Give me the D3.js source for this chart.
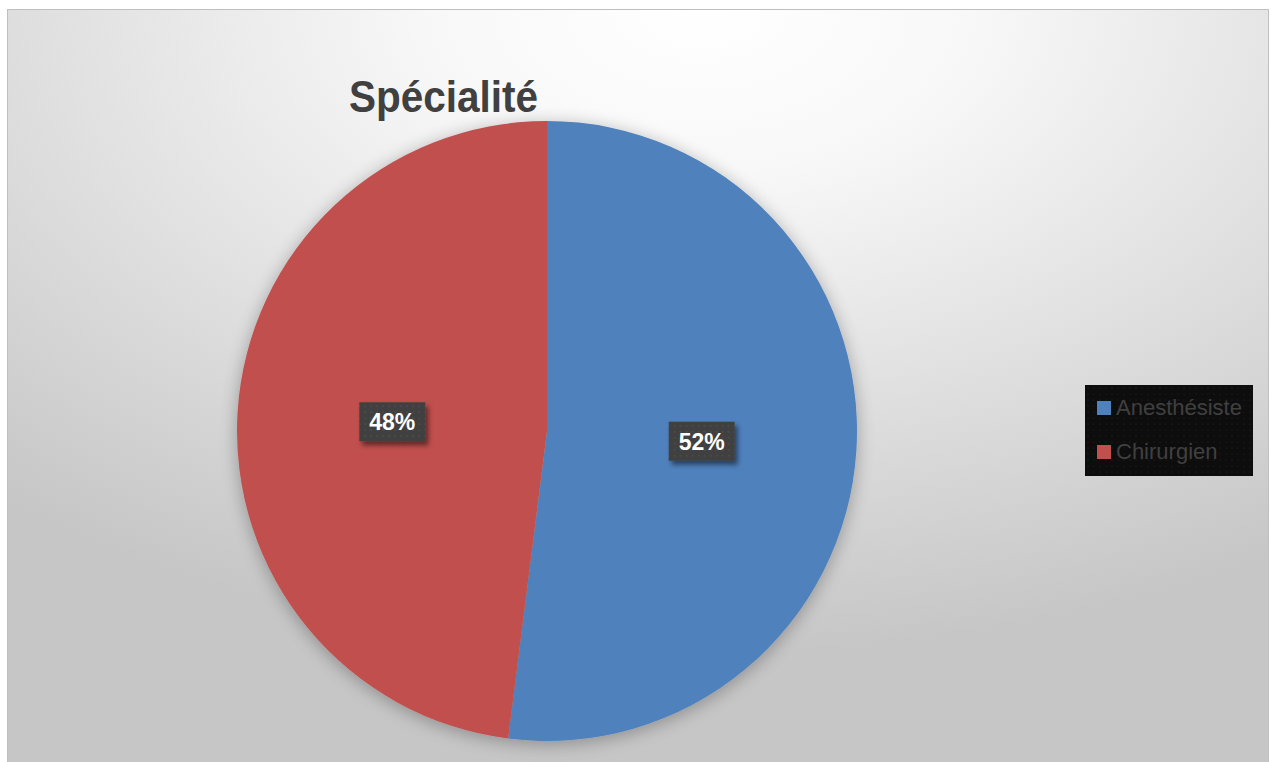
<!DOCTYPE html>
<html><head><meta charset="utf-8">
<script src="https://cdn.jsdelivr.net/npm/d3@7"></script>
<style>html,body{margin:0;padding:0;background:#fff;overflow:hidden}</style>
</head><body>
<svg id="chart" width="1271" height="762"></svg>
<script>
const categories = ["Anesthésiste", "Chirurgien"];
const values = [52, 48];
const labels = ["52%", "48%"];
const colors = ["#4F81BD", "#C0504D"];
const title = "Spécialité";

const svg = d3.select("#chart");
const defs = svg.append("defs");
const bg = defs.append("radialGradient").attr("id","bg")
  .attr("cx","0.55").attr("cy","0.0").attr("r","0.85").attr("fx","0.55").attr("fy","0.0");
bg.append("stop").attr("offset","0").attr("stop-color","#ffffff");
bg.append("stop").attr("offset","0.25").attr("stop-color","#f8f8f8");
bg.append("stop").attr("offset","1").attr("stop-color","#c6c6c6");

const sh = defs.append("filter").attr("id","pieShadow").attr("x","-20%").attr("y","-20%").attr("width","140%").attr("height","140%");
sh.append("feGaussianBlur").attr("in","SourceAlpha").attr("stdDeviation","9");
sh.append("feOffset").attr("dx","0").attr("dy","3").attr("result","b");
sh.append("feComponentTransfer").append("feFuncA").attr("type","linear").attr("slope","0.3");
const m = sh.append("feMerge"); m.append("feMergeNode"); m.append("feMergeNode").attr("in","SourceGraphic");

const ls = defs.append("filter").attr("id","lblShadow").attr("x","-30%").attr("y","-30%").attr("width","170%").attr("height","170%");
ls.append("feGaussianBlur").attr("in","SourceAlpha").attr("stdDeviation","2.5");
ls.append("feOffset").attr("dx","3").attr("dy","4");
ls.append("feComponentTransfer").append("feFuncA").attr("type","linear").attr("slope","0.5");
const m2 = ls.append("feMerge"); m2.append("feMergeNode"); m2.append("feMergeNode").attr("in","SourceGraphic");

const pat = defs.append("pattern").attr("id","dots").attr("width",6).attr("height",6).attr("patternUnits","userSpaceOnUse");
pat.append("rect").attr("width",6).attr("height",6).attr("fill","#404040");
pat.append("circle").attr("cx",3).attr("cy",3).attr("r",1).attr("fill","#4a4a4a");

const lpat = defs.append("pattern").attr("id","ldots").attr("width",6).attr("height",6).attr("patternUnits","userSpaceOnUse");
lpat.append("rect").attr("width",6).attr("height",6).attr("fill","#0d0d0d");
lpat.append("circle").attr("cx",3).attr("cy",3).attr("r",0.6).attr("fill","#262626");

svg.append("rect").attr("x",7.5).attr("y",9.5).attr("width",1261).attr("height",760)
  .attr("fill","url(#bg)").attr("stroke","#bfbfbf").attr("stroke-width",1);

svg.append("text").attr("x",349).attr("y",112).text(title)
  .attr("font-family","'Liberation Sans Narrow','Arial Narrow',sans-serif")
  .attr("font-weight","bold").attr("font-size",44).attr("fill","#404040")
  .attr("textLength",189).attr("lengthAdjust","spacingAndGlyphs");

const cx = 547, cy = 431, R = 310;
const pie = d3.pie().sort(null).value(d => d)(values);
const arc = d3.arc().innerRadius(0).outerRadius(R);
const g = svg.append("g").attr("transform",`translate(${cx},${cy})`);
g.append("g").attr("filter","url(#pieShadow)").selectAll("path").data(pie).join("path")
  .attr("d",arc).attr("fill",(d,i)=>colors[i]);

const labelArc = d3.arc().innerRadius(R*0.5).outerRadius(R*0.5);
const lg = g.selectAll("g.lbl").data(pie).join("g").attr("class","lbl")
  .attr("transform",d=>{const c=labelArc.centroid(d);return `translate(${c[0]},${c[1]})`;});
lg.append("rect").attr("x",-33).attr("y",-19).attr("width",66).attr("height",39)
  .attr("fill","url(#dots)").attr("filter","url(#lblShadow)");
lg.append("text").text((d,i)=>labels[i]).attr("text-anchor","middle").attr("y",9)
  .attr("font-family","'Liberation Sans',Arial,sans-serif").attr("font-weight","bold")
  .attr("font-size",23).attr("fill","#ffffff");

const leg = svg.append("g").attr("transform","translate(1085,385)");
leg.append("rect").attr("width",168).attr("height",91).attr("fill","url(#ldots)");
const items = leg.selectAll("g").data(categories).join("g")
  .attr("transform",(d,i)=>`translate(12,${16+i*44})`);
items.append("rect").attr("width",14).attr("height",14).attr("fill",(d,i)=>colors[i]);
items.append("text").text(d=>d).attr("x",19).attr("y",14)
  .attr("font-family","'Liberation Sans Narrow','Arial Narrow',sans-serif")
  .attr("font-size",22).attr("fill","#404040");
</script>
</body></html>
